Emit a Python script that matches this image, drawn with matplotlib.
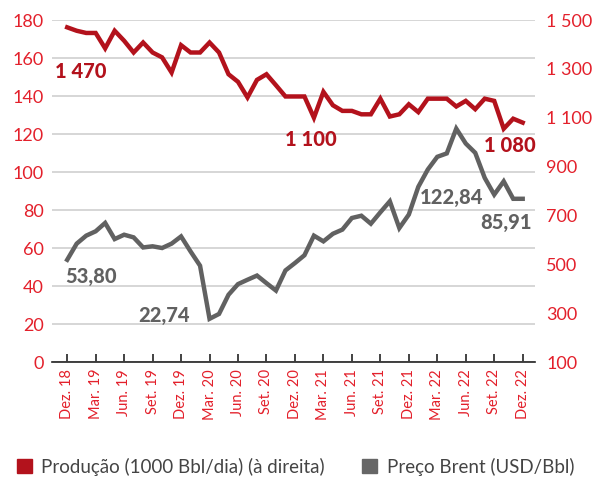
import matplotlib
matplotlib.use('Agg')
import matplotlib.pyplot as plt
from matplotlib.patches import Patch

# Monthly data, Dez. 18 .. Dez. 22
producao = [1470, 1456, 1447, 1447, 1384, 1456, 1415, 1367, 1408, 1367,
            1347, 1285, 1397, 1367, 1367, 1408, 1367, 1278, 1247, 1183,
            1255, 1278, 1233, 1187, 1187, 1187, 1100, 1206, 1151, 1128,
            1128, 1114, 1114, 1178, 1105, 1114, 1155, 1123, 1178, 1178,
            1178, 1146, 1169, 1135, 1178, 1169, 1055, 1096, 1080]
brent = [53.80, 62.3, 66.5, 68.8, 73.2, 64.7, 67.0, 65.6, 60.3, 60.9,
         60.0, 62.3, 66.1, 58.2, 50.7, 22.74, 25.3, 35.4, 41.0, 43.3,
         45.5, 41.5, 37.6, 48.2, 52.1, 56.2, 66.5, 63.5, 67.5, 69.7,
         75.8, 77.0, 72.8, 78.8, 84.6, 70.5, 77.6, 92.2, 101.3, 108.0,
         109.8, 122.84, 115.0, 110.1, 96.9, 88.1, 95.1, 85.9, 85.91]
tick_labels = ["Dez. 18", "Mar. 19", "Jun. 19", "Set. 19", "Dez. 19",
               "Mar. 20", "Jun. 20", "Set. 20", "Dez. 20", "Mar. 21",
               "Jun. 21", "Set. 21", "Dez. 21", "Mar. 22", "Jun. 22",
               "Set. 22", "Dez. 22"]

RED = '#b3121c'
TICK_RED = '#e3202b'
GREY = '#616161'
FONT = 'Lato'

plt.rcParams['font.family'] = [FONT, 'DejaVu Sans']

fig = plt.figure(figsize=(6, 4.8), dpi=100)
ax = fig.add_axes([0.0867, 0.2458, 0.805, 0.7125])
ax2 = ax.twinx()

x = list(range(len(brent)))
ax.plot(x, brent, color=GREY, lw=3.2, solid_joinstyle='miter', zorder=3)
ax2.plot(x, producao, color=RED, lw=3.2, solid_joinstyle='miter', zorder=3)

ax.set_xlim(-1.6, 49.3)
ax.set_ylim(0, 180)
ax2.set_ylim(100, 1500)
ax.set_yticks(range(0, 181, 20))
ax2.set_yticks(range(100, 1501, 200))
ax2.set_yticklabels([f"{v:,}".replace(",", " ") for v in range(100, 1501, 200)])
ax.set_xticks(range(0, 49, 3))
ax.set_xticklabels(tick_labels, rotation=90)

for a in (ax, ax2):
    for s in ('left', 'right', 'top'):
        a.spines[s].set_visible(False)
ax2.spines['bottom'].set_visible(False)
ax.spines['bottom'].set_color('#222222')
ax.spines['bottom'].set_linewidth(1.2)

ax.yaxis.grid(True, color='#cfcfcf', lw=1.2)
ax.set_axisbelow(True)
ax.tick_params(axis='y', length=0, labelsize=13, labelcolor=TICK_RED, pad=6)
ax2.tick_params(axis='y', length=0, labelsize=13, labelcolor=TICK_RED, pad=8)
ax.tick_params(axis='x', direction='in', length=6, width=1.2, color='#222222',
               labelsize=10.5, labelcolor=TICK_RED, pad=5)

ann = dict(fontsize=14.5, fontweight=900, va='center', ha='left')
ax2.text(-1.3, 1290, "1 470", color=RED, **ann)
ax2.text(22.9, 1011, "1 100", color=RED, **ann)
ax2.text(43.9, 987, "1 080", color=RED, **ann)
ax.text(-0.2, 44.9, "53,80", color=GREY, **ann)
ax.text(7.5, 24.3, "22,74", color=GREY, **ann)
ax.text(37.2, 86.5, "122,84", color=GREY, **ann)
ax.text(43.5, 73.3, "85,91", color=GREY, **ann)

handles = [Patch(color=RED), Patch(color='#666666')]
labels = ["Produção (1000 Bbl/dia) (à direita)", "Preço Brent (USD/Bbl)"]
fig.legend(handles, labels, loc='lower left', bbox_to_anchor=(0.0, -0.026),
           ncol=2, frameon=False, fontsize=13.5, handlelength=0.8,
           handleheight=0.8, handletextpad=0.5, columnspacing=2.0,
           labelcolor='#444444')

fig.savefig('out.png', dpi=100)
